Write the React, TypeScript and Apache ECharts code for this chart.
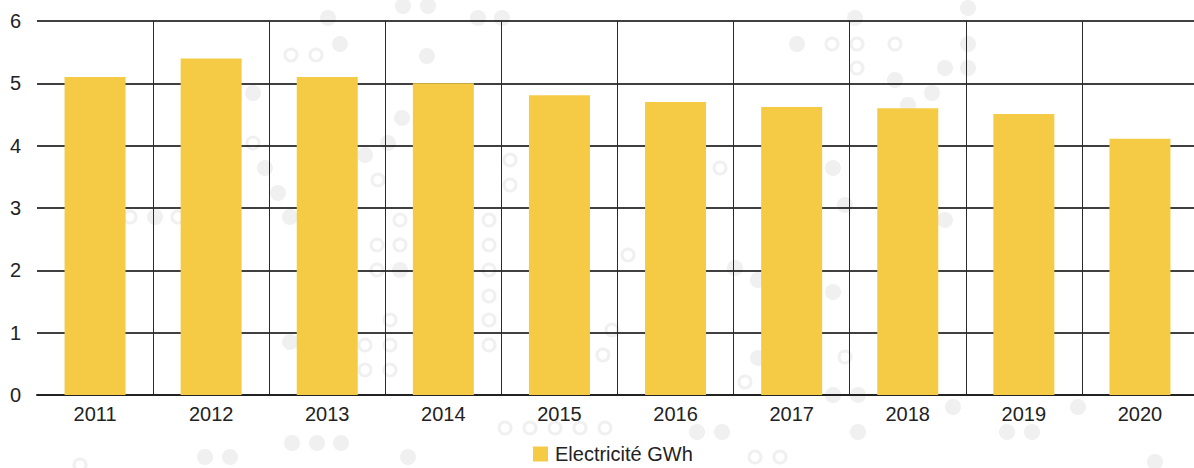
import React, { useEffect, useRef } from "react";
import * as echarts from "echarts";

const years = ["2011", "2012", "2013", "2014", "2015", "2016", "2017", "2018", "2019", "2020"];
const electricite = [5.1, 5.4, 5.1, 5.0, 4.81, 4.7, 4.62, 4.6, 4.51, 4.11];
const seriesName = "Electricité GWh";

// decorative background dots: [x, y, ring(1) / filled(0)]
const dots: number[][] = [
  [403, 6, 0], [428, 6, 0], [478, 18, 0], [502, 18, 0], [328, 18, 0], [855, 18, 0], [968, 8, 0],
  [291, 55, 1], [316, 55, 1], [832, 44, 1], [857, 44, 1], [895, 44, 1],
  [340, 44, 0], [797, 44, 0], [968, 44, 0], [857, 68, 1], [945, 68, 0], [968, 68, 0], [427, 56, 0],
  [253, 93, 0], [895, 80, 0], [932, 93, 0], [908, 105, 0], [402, 118, 0],
  [388, 143, 0], [365, 155, 0], [253, 143, 1], [510, 160, 1], [510, 185, 1], [720, 168, 1],
  [833, 168, 0], [265, 168, 0], [378, 180, 1], [278, 193, 0], [130, 217, 1], [155, 217, 0],
  [178, 217, 1], [290, 217, 0], [400, 220, 1], [489, 220, 1], [945, 220, 0], [845, 205, 0],
  [377, 245, 1], [400, 245, 1], [489, 245, 1], [377, 270, 1], [400, 270, 0], [489, 270, 1],
  [628, 255, 1], [735, 268, 0], [758, 280, 0], [489, 296, 1], [833, 292, 0], [390, 320, 1],
  [489, 320, 1], [612, 330, 1], [290, 342, 0], [365, 345, 1], [390, 345, 1], [489, 345, 1],
  [603, 355, 1], [758, 358, 0], [845, 357, 1], [365, 370, 1], [390, 370, 1], [745, 382, 1],
  [833, 395, 0], [858, 395, 0], [953, 407, 0], [1078, 407, 0], [505, 428, 1], [530, 428, 1],
  [555, 428, 1], [580, 428, 1], [605, 428, 1], [292, 443, 0], [317, 443, 0], [341, 443, 0],
  [697, 432, 0], [722, 432, 0], [858, 432, 0], [1007, 432, 0], [1032, 432, 0], [205, 457, 0],
  [230, 457, 0], [408, 457, 0], [755, 457, 1], [780, 457, 1], [1155, 462, 0], [80, 465, 1],
];

export default function App() {
  const ref = useRef<HTMLDivElement>(null);
  useEffect(() => {
    document.body.style.margin = "0";
    if (!ref.current) return;
    const chart = echarts.init(ref.current, null, { renderer: "svg" });
    const font = "'Liberation Sans', Arial, sans-serif";
    chart.setOption({
      animation: false,
      backgroundColor: "#ffffff",
      textStyle: { fontFamily: font },
      graphic: dots.map((d) => ({
        type: "circle",
        z: -10,
        silent: true,
        shape: { cx: d[0], cy: d[1], r: d[2] ? 6 : 8 },
        style: d[2]
          ? { fill: "none", stroke: "#f0f0f0", lineWidth: 3 }
          : { fill: "#f0f0f0" },
      })),
      grid: { left: 37, right: 0, top: 21, bottom: 73, containLabel: false },
      legend: {
        data: [seriesName],
        left: 533,
        top: 444,
        padding: 0,
        itemWidth: 15,
        itemHeight: 15,
        itemGap: 10,
        icon: "rect",
        textStyle: { fontSize: 20, lineHeight: 20, color: "#222", fontFamily: font, padding: [0, 0, 0, 2] },
      },
      xAxis: {
        type: "category",
        data: years,
        axisLine: { show: true, lineStyle: { color: "#222", width: 2 } },
        axisTick: { show: false },
        axisLabel: { fontSize: 20, color: "#222", margin: 9, fontFamily: font },
        splitLine: { show: true, showMinLine: false, showMaxLine: false, lineStyle: { color: "#2a2a2a", width: 1 } },
      },
      yAxis: {
        type: "value",
        min: 0,
        max: 6,
        interval: 1,
        axisLine: { show: false },
        axisTick: { show: false },
        axisLabel: { fontSize: 20, color: "#222", margin: 16, fontFamily: font },
        splitLine: { show: true, lineStyle: { color: "#000", width: 1.5 } },
      },
      series: [
        {
          name: seriesName,
          type: "bar",
          data: electricite,
          barWidth: 61,
          itemStyle: { color: "#F5CB45" },
        },
      ],
    });
    return () => chart.dispose();
  }, []);
  return (
    <div style={{ width: 1194, height: 468, overflow: "hidden" }}>
      <div ref={ref} style={{ width: 1198, height: 468 }} />
    </div>
  );
}
